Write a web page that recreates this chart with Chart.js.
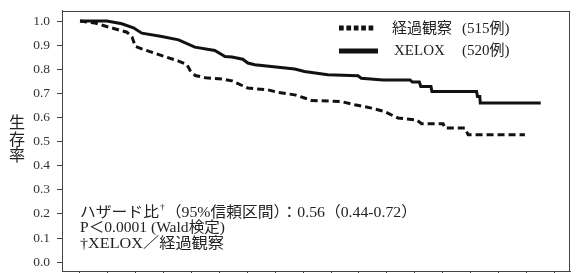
<!DOCTYPE html>
<html><head><meta charset="utf-8">
<script src="https://cdn.jsdelivr.net/npm/chart.js@4/dist/chart.umd.min.js"></script>
<style>html,body{margin:0;padding:0;background:#fff;overflow:hidden}</style>
</head><body>
<canvas id="c" width="586" height="273"></canvas>
<script>
// ---- data (months, survival proportion) ----
const observationMonths   = [0, 3.2, 6.2, 10.1, 11.2, 11.9, 13.3, 17.6, 21.2, 23.0, 23.7, 24.8, 27.0, 30.5, 32.7, 36.1, 40.4, 42.6, 46.2, 48.3, 49.7, 56.2, 59.1, 62.7, 65.5, 67.7, 68.4, 72.4, 73.5, 78.1, 78.5, 82.8, 83.5, 95.7];
const observationSurvival = [1.0, 0.992, 0.975, 0.954, 0.934, 0.895, 0.885, 0.857, 0.834, 0.82, 0.795, 0.774, 0.765, 0.76, 0.752, 0.722, 0.715, 0.704, 0.694, 0.681, 0.671, 0.666, 0.653, 0.639, 0.625, 0.604, 0.598, 0.590, 0.574, 0.574, 0.556, 0.556, 0.528, 0.528];
const xeloxMonths   = [0, 5.8, 9.0, 11.5, 13.3, 17.6, 21.2, 24.7, 29.0, 31.2, 32.7, 35.0, 36.1, 37.6, 46.2, 48.3, 53.3, 59.8, 60.5, 65.2, 71.0, 71.5, 73.0, 73.3, 75.5, 75.7, 85.3, 85.5, 86.0, 86.1, 99.1];
const xeloxSurvival = [1.0, 1.0, 0.989, 0.972, 0.95, 0.936, 0.922, 0.892, 0.878, 0.853, 0.851, 0.842, 0.826, 0.819, 0.801, 0.791, 0.777, 0.773, 0.763, 0.756, 0.756, 0.747, 0.747, 0.729, 0.729, 0.708, 0.708, 0.687, 0.687, 0.66, 0.66];
const seriesLabels = ['経過観察', 'XELOX'];
const seriesCounts = ['(515例)', '(520例)'];
const yTickValues = [0.0, 0.1, 0.2, 0.3, 0.4, 0.5, 0.6, 0.7, 0.8, 0.9, 1.0];
const xTickMonths = [0, 6, 12, 18, 24, 30, 36, 42, 48, 54, 60, 66, 72, 78, 84, 90, 96, 102];
const yAxisTitle = '生存率';
const noteLine1 = ['ハザード比', '†', '（95%信頼区間）：0.56（0.44-0.72）'];
const noteLine2 = 'P＜0.0001 (Wald検定)';
const noteLine3 = '†XELOX／経過観察';

const FONT = '"Liberation Serif","Noto Sans CJK JP",serif';
const toPts = (xs, ys) => xs.map((x, i) => ({x, y: ys[i]}));

// draw text runs scaled horizontally to a target width
function drawRuns(ctx, x, y, runs, target) {
  let w = 0;
  runs.forEach(r => { ctx.font = r.size + 'px ' + FONT; r.w = ctx.measureText(r.t).width + (r.gap || 0); w += r.w; });
  const k = target / w;
  ctx.save();
  ctx.translate(x, y); ctx.scale(k, 1);
  let cx = 0;
  runs.forEach(r => { ctx.font = r.size + 'px ' + FONT; ctx.fillText(r.t, cx + (r.gap || 0) / 2, r.dy || 0); cx += r.w; });
  ctx.restore();
}

const overlay = {
  id: 'overlay',
  afterDraw(chart) {
    const ctx = chart.ctx, a = chart.chartArea;
    ctx.save();
    // frame
    ctx.strokeStyle = '#444'; ctx.lineWidth = 1;
    ctx.strokeRect(Math.round(a.left) + 0.5, Math.round(a.top) + 0.5, Math.round(a.right - a.left) - 1, Math.round(a.bottom - a.top) - 1);
    // legend
    ctx.strokeStyle = '#111';
    ctx.lineWidth = 5; ctx.lineCap = 'butt';
    ctx.setLineDash([4.7, 2.7]);
    ctx.beginPath(); ctx.moveTo(339, 28); ctx.lineTo(374, 28); ctx.stroke();
    ctx.setLineDash([]);
    ctx.beginPath(); ctx.moveTo(339, 51); ctx.lineTo(378, 51); ctx.stroke();
    ctx.fillStyle = '#222';
    ctx.textBaseline = 'middle'; ctx.textAlign = 'left';
    ctx.font = '15px ' + FONT;
    ctx.fillText(seriesLabels[0], 392, 29);
    ctx.fillText(seriesLabels[1], 394, 51);
    ctx.fillText(seriesCounts[0], 462, 29);
    ctx.fillText(seriesCounts[1], 462, 51);
    // y title, stacked vertically
    ctx.textAlign = 'center';
    ctx.font = '16px ' + FONT;
    [...yAxisTitle].forEach((ch, i) => ctx.fillText(ch, 17, 124 + i * 16.5));
    // notes
    ctx.textAlign = 'left';
    drawRuns(ctx, 80, 213, [{t: noteLine1[0], size: 15}, {t: noteLine1[1], size: 9, dy: -5, gap: 2}, {t: noteLine1[2], size: 15}], 337);
    drawRuns(ctx, 80, 228.5, [{t: noteLine2, size: 15}], 145);
    drawRuns(ctx, 80, 244, [{t: noteLine3, size: 15}], 144);
    ctx.restore();
  }
};

new Chart(document.getElementById('c'), {
  type: 'line',
  data: {
    datasets: [
      {label: seriesLabels[0], data: toPts(observationMonths, observationSurvival), borderColor: '#111', borderWidth: 3, borderDash: [7, 4], pointRadius: 0, tension: 0, fill: false},
      {label: seriesLabels[1], data: toPts(xeloxMonths, xeloxSurvival), borderColor: '#111', borderWidth: 3, pointRadius: 0, tension: 0, fill: false}
    ]
  },
  options: {
    responsive: false, animation: false, devicePixelRatio: 1,
    layout: {autoPadding: false, padding: {top: 10.5, right: 16, left: 0, bottom: 0}},
    plugins: {legend: {display: false}, tooltip: {enabled: false}},
    scales: {
      x: {
        type: 'linear', min: -3.87, max: 105.4,
        afterBuildTicks: s => { s.ticks = xTickMonths.map(v => ({value: v})); },
        afterFit: s => { s.height = 1.5; },
        ticks: {display: false},
        grid: {drawOnChartArea: false, drawTicks: true, tickLength: 5, color: '#444'},
        border: {display: true, color: '#444', width: 1}
      },
      y: {
        type: 'linear', min: -0.039, max: 1.044,
        afterBuildTicks: s => { s.ticks = yTickValues.map(v => ({value: v})); },
        afterFit: s => { s.width = 62; s.paddingTop = 0; s.paddingBottom = 0; },
        ticks: {callback: v => Number(v).toFixed(1), font: {family: FONT, size: 13.5}, color: '#333', padding: 7},
        grid: {drawOnChartArea: false, drawTicks: true, tickLength: 5, color: '#444'},
        border: {display: true, color: '#444', width: 1}
      }
    }
  },
  plugins: [overlay]
});
</script>
</body></html>
